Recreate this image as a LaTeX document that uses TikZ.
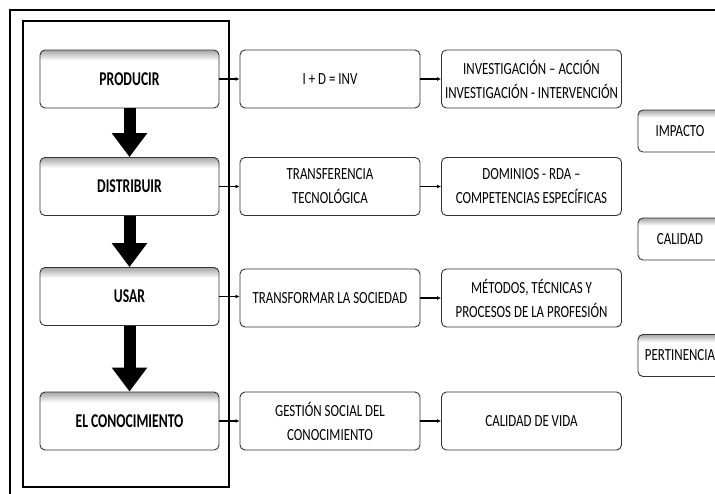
\documentclass[tikz,border=0pt]{standalone}
\usepackage{fontspec}
\setmainfont{Carlito}[FakeStretch=0.76]
\newfontfamily\stagefont{Carlito}[FakeStretch=0.70]
\usetikzlibrary{arrows.meta}
\pgfdeclareverticalshading{topband}{100bp}{color(0bp)=(white); color(66bp)=(white); color(75bp)=(gray!70); color(100bp)=(gray!70)}
\tikzset{
stagebox/.style={
	draw=black!80, line width=0.9pt, rounded corners=5pt, shading=topband,
	minimum width=179pt, minimum height=58pt, align=center,
	font=\stagefont\bfseries\fontsize{19.5}{24}\selectfont},
itembox/.style={
	draw=black!80, line width=0.9pt, rounded corners=5pt, fill=white,
	minimum width=180pt, minimum height=58pt, align=center,
	font=\fontsize{17}{24}\selectfont},
critbox/.style={
	draw=black!80, line width=0.9pt, rounded corners=5pt, shading=topband,
	minimum width=84pt, minimum height=42pt,
	font=\fontsize{17}{24}\selectfont},
bigarrow/.style={line width=12pt, -{Triangle[width=34pt,length=24pt]}},
link/.style={line width=1.2pt, -{Latex[length=4pt,width=4pt]}}
}

\begin{document}
\begin{tikzpicture}[x=1pt, y=-1pt]
	\clip (0,0) rectangle (715,493);
	\fill[white] (0,0) rectangle (715,493);
	\draw[line width=1.8pt] (10,10) rectangle (740,520);
	\draw[line width=1.2pt] (23,21) rectangle (229,487);
	\node[stagebox] (prod) at (129.5,79) {PRODUCIR};
	\node[stagebox] (dist) at (129.5,186.5) {DISTRIBUIR};
	\node[stagebox] (usar) at (129.5,296.5) {USAR};
	\node[stagebox] (cono) at (129.5,421) {EL CONOCIMIENTO};
	\node[itembox] (inv) at (330,79) {I + D = INV};
	\node[itembox] (trans) at (330,186.5) {TRANSFERENCIA\\TECNOLÓGICA};
	\node[itembox] (soc) at (330,298) {TRANSFORMAR LA SOCIEDAD};
	\node[itembox] (gest) at (330,421) {GESTIÓN SOCIAL DEL\\CONOCIMIENTO};
	\node[itembox] (accion) at (531.5,79) {INVESTIGACIÓN – ACCIÓN\\INVESTIGACIÓN - INTERVENCIÓN};
	\node[itembox] (dom) at (531.5,186.5) {DOMINIOS - RDA –\\COMPETENCIAS ESPECÍFICAS};
	\node[itembox] (met) at (531.5,298) {MÉTODOS, TÉCNICAS Y\\PROCESOS DE LA PROFESIÓN};
	\node[itembox] (vida) at (531.5,421) {CALIDAD DE VIDA};
	\node[critbox] (imp) at (680,131) {IMPACTO};
	\node[critbox] (cal) at (680,239) {CALIDAD};
	\node[critbox] (pert) at (680,355.5) {PERTINENCIA};
	\draw[bigarrow] (prod) -- (dist);
	\draw[bigarrow] (dist) -- (usar);
	\draw[bigarrow] (usar) -- (cono);
	\draw[link] (prod) -- (inv);
	\draw[link] (dist) -- (trans);
	\draw[link] (usar.east) -- (soc.west |- usar.east);
	\draw[link] (cono) -- (gest);
	\draw[link] (inv) -- (accion);
	\draw[link] (trans) -- (dom);
	\draw[link] (soc) -- (met);
	\draw[link] (gest) -- (vida);
\end{tikzpicture}
\end{document}
